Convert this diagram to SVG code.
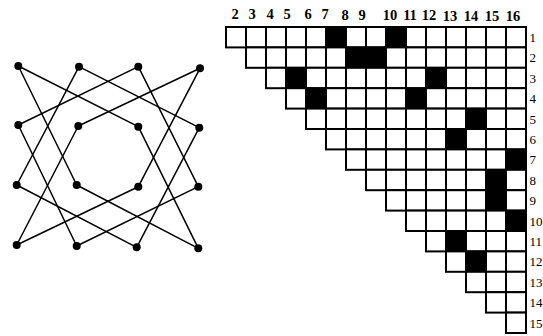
<svg xmlns="http://www.w3.org/2000/svg" xmlns:xlink="http://www.w3.org/1999/xlink" width="543" height="336" viewBox="0 0 543 336">
<style>
.edge{stroke:#000;stroke-width:1.5;fill:none;stroke-linecap:round}
.dot{fill:#000}
.cell{fill:#fff;stroke:#000;stroke-width:2}
.blk{fill:#000;stroke:#000;stroke-width:2}
.col{font-family:"Liberation Serif",serif;font-size:14.5px;font-weight:bold;text-anchor:middle;fill:#000}
.row{font-family:"Liberation Serif",serif;font-size:13px;fill:#000}
</style>
<defs>
<rect id="w" width="20" height="20.4" class="cell"/>
<rect id="k" width="20" height="20.4" class="blk"/>
</defs>
<rect width="543" height="336" fill="#fff"/>
<g id="connectors">
<line class="edge" x1="18.3" y1="66" x2="76.7" y2="185"/>
<line class="edge" x1="18.3" y1="66" x2="138.3" y2="126.7" stroke-width="1.1"/>
<line class="edge" x1="79" y1="66.7" x2="16.7" y2="185"/>
<line class="edge" x1="79" y1="66.7" x2="199.3" y2="127.7"/>
<line class="edge" x1="138.3" y1="66.7" x2="18.3" y2="125"/>
<line class="edge" x1="138.3" y1="66.7" x2="198.3" y2="186.7"/>
<line class="edge" x1="200" y1="68.3" x2="78.3" y2="126"/>
<line class="edge" x1="200" y1="68.3" x2="138.3" y2="186.7"/>
<line class="edge" x1="18.3" y1="125" x2="76.7" y2="246"/>
<line class="edge" x1="78.3" y1="126" x2="16.7" y2="245"/>
<line class="edge" x1="138.3" y1="126.7" x2="198.3" y2="248.3"/>
<line class="edge" x1="199.3" y1="127.7" x2="136.7" y2="247.3"/>
<line class="edge" x1="16.7" y1="185" x2="136.7" y2="247.3"/>
<line class="edge" x1="76.7" y1="185" x2="198.3" y2="248.3"/>
<line class="edge" x1="138.3" y1="186.7" x2="16.7" y2="245" stroke-width="1.1"/>
<line class="edge" x1="198.3" y1="186.7" x2="76.7" y2="246"/>
</g>
<g id="v1"><circle class="dot" cx="18.3" cy="66" r="4"/></g>
<g id="v2"><circle class="dot" cx="79" cy="66.7" r="4"/></g>
<g id="v3"><circle class="dot" cx="138.3" cy="66.7" r="4"/></g>
<g id="v4"><circle class="dot" cx="200" cy="68.3" r="4"/></g>
<g id="v5"><circle class="dot" cx="18.3" cy="125" r="4"/></g>
<g id="v6"><circle class="dot" cx="78.3" cy="126" r="4"/></g>
<g id="v7"><circle class="dot" cx="138.3" cy="126.7" r="4"/></g>
<g id="v8"><circle class="dot" cx="199.3" cy="127.7" r="4"/></g>
<g id="v9"><circle class="dot" cx="16.7" cy="185" r="4"/></g>
<g id="v10"><circle class="dot" cx="76.7" cy="185" r="4"/></g>
<g id="v11"><circle class="dot" cx="138.3" cy="186.7" r="4"/></g>
<g id="v12"><circle class="dot" cx="198.3" cy="186.7" r="4"/></g>
<g id="v13"><circle class="dot" cx="16.7" cy="245" r="4"/></g>
<g id="v14"><circle class="dot" cx="76.7" cy="246" r="4"/></g>
<g id="v15"><circle class="dot" cx="136.7" cy="247.3" r="4"/></g>
<g id="v16"><circle class="dot" cx="198.3" cy="248.3" r="4"/></g>
<g id="matrix">
<g transform="translate(0,27)"><use href="#w" x="226"/><use href="#w" x="246"/><use href="#w" x="266"/><use href="#w" x="286"/><use href="#w" x="306"/><use href="#k" x="326"/><use href="#w" x="346"/><use href="#w" x="366"/><use href="#k" x="386"/><use href="#w" x="406"/><use href="#w" x="426"/><use href="#w" x="446"/><use href="#w" x="466"/><use href="#w" x="486"/><use href="#w" x="506"/></g>
<g transform="translate(0,47.4)"><use href="#w" x="246"/><use href="#w" x="266"/><use href="#w" x="286"/><use href="#w" x="306"/><use href="#w" x="326"/><use href="#k" x="346"/><use href="#k" x="366"/><use href="#w" x="386"/><use href="#w" x="406"/><use href="#w" x="426"/><use href="#w" x="446"/><use href="#w" x="466"/><use href="#w" x="486"/><use href="#w" x="506"/></g>
<g transform="translate(0,67.8)"><use href="#w" x="266"/><use href="#k" x="286"/><use href="#w" x="306"/><use href="#w" x="326"/><use href="#w" x="346"/><use href="#w" x="366"/><use href="#w" x="386"/><use href="#w" x="406"/><use href="#k" x="426"/><use href="#w" x="446"/><use href="#w" x="466"/><use href="#w" x="486"/><use href="#w" x="506"/></g>
<g transform="translate(0,88.2)"><use href="#w" x="286"/><use href="#k" x="306"/><use href="#w" x="326"/><use href="#w" x="346"/><use href="#w" x="366"/><use href="#w" x="386"/><use href="#k" x="406"/><use href="#w" x="426"/><use href="#w" x="446"/><use href="#w" x="466"/><use href="#w" x="486"/><use href="#w" x="506"/></g>
<g transform="translate(0,108.6)"><use href="#w" x="306"/><use href="#w" x="326"/><use href="#w" x="346"/><use href="#w" x="366"/><use href="#w" x="386"/><use href="#w" x="406"/><use href="#w" x="426"/><use href="#w" x="446"/><use href="#k" x="466"/><use href="#w" x="486"/><use href="#w" x="506"/></g>
<g transform="translate(0,129)"><use href="#w" x="326"/><use href="#w" x="346"/><use href="#w" x="366"/><use href="#w" x="386"/><use href="#w" x="406"/><use href="#w" x="426"/><use href="#k" x="446"/><use href="#w" x="466"/><use href="#w" x="486"/><use href="#w" x="506"/></g>
<g transform="translate(0,149.4)"><use href="#w" x="346"/><use href="#w" x="366"/><use href="#w" x="386"/><use href="#w" x="406"/><use href="#w" x="426"/><use href="#w" x="446"/><use href="#w" x="466"/><use href="#w" x="486"/><use href="#k" x="506"/></g>
<g transform="translate(0,169.8)"><use href="#w" x="366"/><use href="#w" x="386"/><use href="#w" x="406"/><use href="#w" x="426"/><use href="#w" x="446"/><use href="#w" x="466"/><use href="#k" x="486"/><use href="#w" x="506"/></g>
<g transform="translate(0,190.2)"><use href="#w" x="386"/><use href="#w" x="406"/><use href="#w" x="426"/><use href="#w" x="446"/><use href="#w" x="466"/><use href="#k" x="486"/><use href="#w" x="506"/></g>
<g transform="translate(0,210.6)"><use href="#w" x="406"/><use href="#w" x="426"/><use href="#w" x="446"/><use href="#w" x="466"/><use href="#w" x="486"/><use href="#k" x="506"/></g>
<g transform="translate(0,231)"><use href="#w" x="426"/><use href="#k" x="446"/><use href="#w" x="466"/><use href="#w" x="486"/><use href="#w" x="506"/></g>
<g transform="translate(0,251.4)"><use href="#w" x="446"/><use href="#k" x="466"/><use href="#w" x="486"/><use href="#w" x="506"/></g>
<g transform="translate(0,271.8)"><use href="#w" x="466"/><use href="#w" x="486"/><use href="#w" x="506"/></g>
<g transform="translate(0,292.2)"><use href="#w" x="486"/><use href="#w" x="506"/></g>
<g transform="translate(0,312.6)"><use href="#w" x="506"/></g>
</g>
<g id="col-labels">
<text class="col" x="235" y="18.5">2</text>
<text class="col" x="252" y="18.5">3</text>
<text class="col" x="270" y="18.7">4</text>
<text class="col" x="287" y="18.9">5</text>
<text class="col" x="308" y="19.1">6</text>
<text class="col" x="325" y="19.3">7</text>
<text class="col" x="345" y="19.5">8</text>
<text class="col" x="362" y="19.7">9</text>
<text class="col" x="390" y="19.9">10</text>
<text class="col" x="410" y="20.1">11</text>
<text class="col" x="429" y="20.3">12</text>
<text class="col" x="450" y="20.5">13</text>
<text class="col" x="471" y="20.7">14</text>
<text class="col" x="492" y="20.9">15</text>
<text class="col" x="513" y="21.1">16</text>
</g>
<g id="row-labels">
<text class="row" x="529.5" y="42">1</text>
<text class="row" x="529.5" y="62.4">2</text>
<text class="row" x="529.5" y="82.8">3</text>
<text class="row" x="529.5" y="103.2">4</text>
<text class="row" x="529.5" y="123.6">5</text>
<text class="row" x="529.5" y="144">6</text>
<text class="row" x="529.5" y="164.4">7</text>
<text class="row" x="529.5" y="184.8">8</text>
<text class="row" x="529.5" y="205.2">9</text>
<text class="row" x="529.5" y="225.6">10</text>
<text class="row" x="529.5" y="246">11</text>
<text class="row" x="529.5" y="266.4">12</text>
<text class="row" x="529.5" y="286.8">13</text>
<text class="row" x="529.5" y="307.2">14</text>
<text class="row" x="529.5" y="327.6">15</text>
</g>
</svg>
